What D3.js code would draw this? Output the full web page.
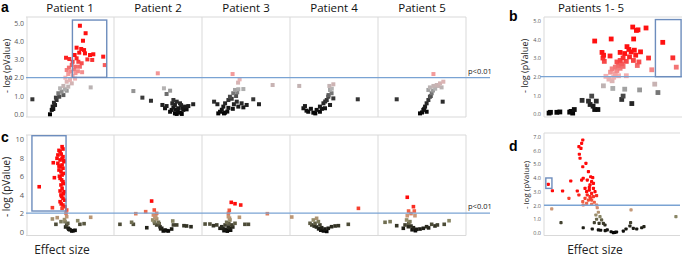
<!DOCTYPE html>
<html><head><meta charset="utf-8">
<script src="https://cdn.jsdelivr.net/npm/d3@7"></script>
<style>
body{margin:0;background:#fff;}
svg{display:block;}
</style></head><body>
<svg id="fig" width="685" height="258"></svg>
<script>
// ---------------- DATA ----------------
const patients = ["Patient 1","Patient 2","Patient 3","Patient 4","Patient 5"];
const pooledTitle = "Patients 1- 5";
const panelLetters = ["a","b","c","d"];
const yLabel = "- log (pValue)";
const xLabel = "Effect size";
const thresholdLabel = "p<0.01";
const threshold = 2;               // -log10(0.01)
const ticksA = [0,1,2,3,4,5];
const ticksB = [0,1,2,3,4,5];
const ticksC = [0,2,4,6,8,10];
const ticksD = [0,1,2,3,4,5,6,7];

// panel a : per patient [effect size, -log p]
const a1 = [[0.45,4.84],[0.71,4.43],[0.59,4.02],[0.30,3.64],[0.51,3.57],[0.64,3.51],[0.42,3.37],[0.68,3.33],[0.91,3.24],[1.06,3.28],[0.79,3.0],[1.01,2.97],[1.51,3.15],[1.58,2.69],[-0.18,3.09],[-0.03,3.02],[0.21,3.24],[0.30,3.06],[0.12,2.87],[0.38,2.87],[0.53,2.79],[0.27,2.60],[0.08,2.69],[0.45,2.60],[0.18,2.46],[-0.15,2.42],[0.03,2.33],[-0.08,2.20],[0.12,2.09],[-0.21,2.0],[0,1.87],[0.23,1.95],[-0.15,1.78],[0.08,1.69],[-0.30,1.55],[-0.08,1.51],[-0.45,1.42],[-0.23,1.37],[-0.38,1.24],[-0.15,1.29],[-0.53,1.15],[-0.30,1.05],[-0.49,0.96],[0.94,1.47],[-0.64,0.91],[-0.61,0.78],[-0.73,0.63],[-0.68,0.51],[-0.79,0.42],[-0.76,0.29],[-0.83,0.24],[-0.91,0],[-1.71,0.82],[0.36,2.35],[0.25,2.25],[-0.05,2.55],[0.55,2.3]];
const a2 = [[-0.01,2.24],[-1.12,1.27],[0.27,1.42],[0.55,1.29],[0.39,1.11],[-0.71,0.91],[-0.32,0.74],[0.20,0.51],[0.32,0.33],[0.70,0.78],[0.85,0.69],[0.77,0.51],[1.0,0.60],[0.92,0.33],[0.62,0.24],[0.55,0.14],[0.77,0.05],[1.0,0.09],[1.15,0.24],[1.23,0.42],[1.38,0.45],[1.6,0.55],[1.08,0.02],[0.85,0.02],[0.70,0.38],[1.3,0.27],[0.39,0.45],[0.9,0.15],[1.1,0.35],[0.8,0.25],[0.65,0.6],[1.05,0.5]];
const a3 = [[-0.61,2.20],[-0.29,1.91],[-0.36,1.73],[1.21,1.60],[-0.5,1.33],[-0.35,1.37],[-0.12,1.38],[-0.58,1.15],[-0.73,0.96],[-0.80,0.78],[-0.95,0.60],[-1.03,0.42],[-1.18,0.14],[-1.26,0.05],[-0.95,0.09],[-1.45,0.69],[-1.3,0.55],[-0.42,0.69],[-0.20,0.60],[0.03,0.51],[-0.12,0.38],[-0.35,0.42],[0.33,0.82],[0.59,0.55],[-0.6,0.3],[-0.8,0.35],[-1.1,0.25],[-0.65,0.85],[-0.45,1.0],[-0.55,0.55],[-1.0,0.05],[-0.85,0.15],[-0.4,1.2]];
const a4 = [[-1.58,1.55],[-0.21,1.55],[-0.03,1.64],[-0.18,1.33],[-0.11,1.15],[-0.26,0.96],[-0.33,0.78],[-0.48,0.60],[-0.64,0.42],[-0.79,0.24],[-0.94,0.09],[-1.17,0.14],[-1.39,0.33],[-1.32,0.45],[-0.03,0.87],[-0.18,0.51],[-0.41,0.33],[-0.64,0.14],[1.08,0.82],[-1.05,0.3],[-0.25,1.05],[-0.1,1.4],[-0.55,0.3],[-0.85,0.05],[-0.4,0.7],[-1.25,0.2]];
const a5 = [[0.52,2.20],[0.97,1.78],[0.82,1.69],[0.67,1.60],[0.52,1.55],[0.36,1.47],[0.29,1.33],[0.89,1.47],[0.6,1.4],[0.44,1.15],[0.36,0.96],[0.29,0.78],[0.21,0.60],[0.14,0.42],[0.06,0.24],[-0.09,0.05],[0.21,0.14],[-1.15,0.82],[0.94,0.69],[0.75,1.55],[0.5,1.3],[0.4,1.0],[0.0,0.1],[0.1,0.3]];

// panel b : pooled patients 1-5
const bPooled = [[-0.81,3.91],[-0.09,4.02],[0.85,4.66],[1.01,4.48],[1.08,4.51],[1.43,4.61],[0.89,4.02],[2.16,3.84],[2.60,3.01],[2.75,2.51],[-0.49,3.30],[-0.42,3.15],[-0.45,3.0],[-0.39,2.82],[-0.14,3.11],[0.30,3.30],[0.60,3.61],[0.68,3.46],[0.50,3.24],[0.78,3.33],[0.92,3.42],[1.19,3.33],[0.98,3.15],[0.71,3.06],[0.43,3.0],[0.30,2.87],[0.16,2.79],[0.57,2.82],[0.88,2.87],[1.12,2.79],[1.54,3.0],[1.05,2.60],[1.68,2.37],[0.37,2.69],[0.23,2.6],[0.09,2.51],[-0.05,2.42],[0.16,2.33],[0.3,2.45],[0.43,2.55],[-0.12,2.24],[0.09,2.15],[0.23,2.05],[0.02,1.97],[-0.19,1.87],[-0.32,2.02],[-0.05,1.78],[0.57,2.05],[1.81,1.60],[-0.43,1.51],[-0.02,1.37],[0.50,1.33],[1.15,1.29],[1.95,1.15],[0.43,0.96],[0.37,0.78],[0.81,0.56],[-0.94,0.96],[-1.08,0.69],[-0.74,0.69],[-1.01,0.51],[-0.88,0.42],[-0.81,0.24],[-0.67,0.24],[-1.36,0.73],[-1.70,0.24],[-1.84,0.14],[-1.77,0.05],[-1.9,0.1],[-2.46,0.09],[-2.33,0.11],[-2.74,0.09],[-2.80,0.05]];

// panel c : per patient
const c1 = [[-1.40,4.86],[-0.76,7.46],[-0.71,5.84],[-0.80,2.59],[-0.36,9.20],[-0.32,8.95],[-0.45,8.66],[-0.55,8.30],[-0.32,8.12],[-0.59,7.94],[-0.36,7.94],[-0.45,7.76],[-0.27,7.57],[-0.55,7.40],[-0.36,7.22],[-0.45,7.03],[-0.32,6.86],[-0.50,6.67],[-0.41,6.49],[-0.36,6.13],[-0.45,5.77],[-0.32,5.41],[-0.41,5.05],[-0.36,4.69],[-0.27,4.32],[-0.41,3.97],[-0.32,3.61],[-0.45,3.24],[-0.32,2.88],[-0.23,2.70],[-0.36,2.52],[-0.5,8.8],[-0.4,8.4],[-0.28,7.7],[-0.5,7.1],[-0.3,6.3],[-0.48,6.0],[-0.38,5.6],[-0.3,5.2],[-0.45,4.4],[-0.3,4.1],[-0.38,3.8],[-0.25,3.4],[-0.4,3.0],[-0.15,2.34],[-0.18,1.98],[-0.15,1.62],[-0.23,1.08],[-0.15,0.72],[-0.08,0.36],[0.08,0.07],[0.23,0.14],[0.0,0.2],[-0.2,0.5],[-0.1,0.9],[-0.25,1.3],[-0.80,1.37],[-0.58,1.51],[-0.64,0.79],[-0.41,1.08],[0.35,1.18],[0.45,0.79],[0.64,0.86],[0.94,1.55],[0.15,0.1],[-0.05,0.25]];
const c2 = [[-0.29,3.31],[-0.56,2.16],[-0.17,2.34],[-0.06,1.98],[-1.01,1.94],[-0.21,1.80],[-0.14,1.51],[-0.24,1.26],[-0.06,1.37],[-0.17,1.08],[0.02,1.01],[-0.06,0.72],[0.09,0.53],[0.17,0.36],[0.32,0.17],[0.47,0.07],[0.62,0.28],[0.24,0.07],[0.70,0.72],[0.67,1.15],[0.85,0.72],[1.18,0.64],[1.30,0.61],[1.50,0.53],[-1.73,0.79],[-1.20,1.01],[-1.12,0.79],[-0.51,0.42],[-0.1,1.6],[0.05,0.85],[0.12,0.3],[0.4,0.1],[-0.15,0.9]];
const c3 = [[-0.67,3.17],[-0.5,3.02],[-0.24,2.88],[-0.76,2.31],[-0.80,1.98],[-0.30,1.55],[0.97,1.94],[-0.80,1.62],[-0.73,1.26],[-0.88,1.01],[-0.95,0.72],[-1.10,0.53],[-1.18,0.36],[-0.95,0.25],[-0.88,0.17],[-0.73,0.36],[-0.65,0.72],[-1.33,0.72],[-1.48,0.64],[-1.64,0.82],[-1.86,0.82],[-0.05,0.79],[0.11,0.79],[-0.5,0.90],[-0.75,1.45],[-0.8,0.5],[-1.0,0.1],[-0.85,0.05],[-0.7,0.15],[-1.05,0.35],[-0.6,0.5],[-0.78,0.9]];
const c4 = [[1.11,2.52],[-1.92,1.58],[-0.94,1.26],[-0.79,1.44],[-0.71,1.08],[-0.86,0.90],[-1.01,0.72],[-0.64,0.72],[-0.56,0.42],[-0.41,0.28],[-0.26,0.36],[-0.11,0.53],[0.05,0.61],[0.20,0.64],[-0.48,0.07],[-0.33,0.02],[0.65,0.79],[-1.09,0.90],[-0.8,0.5],[-0.7,0.3],[-0.9,0.6],[-0.6,0.15]];
const c5 = [[-0.67,3.72],[-0.39,2.70],[-0.61,2.23],[-0.35,2.23],[-0.67,1.72],[-0.32,1.72],[-0.5,1.95],[-0.70,1.26],[-0.55,1.08],[-0.77,0.72],[-0.62,0.53],[-0.39,0.42],[-0.24,0.25],[-0.09,0.28],[0.06,0.36],[0.21,0.53],[0.44,0.79],[0.59,0.61],[0.70,0.72],[1.01,0.79],[1.23,1.18],[-1.68,1.01],[-1.45,1.08],[-1.15,0.64],[-0.85,0.36],[-0.5,0.6],[-0.6,0.9],[-0.45,0.2],[-0.3,0.1],[0.3,0.4]];

// panel d
const dPooled = [[-1.29,6.76],[-1.34,6.52],[-1.46,6.27],[-1.37,6.15],[-1.44,5.72],[-1.41,5.43],[-1.15,5.06],[-1.29,4.81],[-1.04,4.45],[-0.94,4.08],[-0.85,4.01],[-1.27,3.97],[-1.34,3.84],[-1.09,3.84],[-0.90,3.72],[-0.82,3.60],[-0.97,3.48],[-1.82,3.77],[-2.81,3.53],[-2.63,3.06],[-2.18,3.04],[-1.53,3.04],[-1.90,2.51],[-1.46,2.75],[-1.19,3.23],[-1.12,2.99],[-1.00,3.11],[-0.82,3.23],[-0.75,2.99],[-0.90,2.87],[-1.09,2.75],[-0.97,2.63],[-0.82,2.63],[-0.68,2.70],[-1.19,2.51],[-1.04,2.38],[-0.90,2.38],[-1.29,2.26],[-1.12,2.14],[-0.90,2.07],[-0.78,2.22],[-0.68,2.02],[-2.66,1.73],[0.84,1.66],[-1.27,2.02],[-0.65,1.82],[-0.60,1.49],[-0.71,1.29],[-0.53,1.17],[-0.68,0.98],[-0.46,0.93],[-0.57,0.68],[-0.38,0.68],[-0.78,0.73],[-0.31,0.56],[-2.25,0.73],[-1.27,0.36],[-0.87,0.27],[-0.60,0.20],[-0.50,0.18],[-0.21,0.20],[-0.04,0.07],[0.06,0.0],[0.13,0.02],[0.50,0.12],[0.62,0.27],[0.79,0.49],[0.82,0.73],[0.94,0.32],[1.09,0.27],[1.31,0.36],[1.41,0.44],[2.82,1.17],[-0.3,0.15],[0.2,0.05],[-1.0,3.3],[-0.95,2.5]];

// highlight boxes [x0, x1, y0, y1] in data units
const boxA = [0.11, 1.67, 2.02, 5.15];
const boxB = [1.84, 2.96, 2.0, 5.06];
const boxC = [-1.73, -0.18, 2.23, 10.39];
const boxD = [-2.92, -2.65, 3.23, 3.99];

// ---------------- DRAW ----------------
const FONT = "'Open Sans', Lato, 'Liberation Sans', sans-serif";
const svg = d3.select("#fig");
const frameCol = "#d9d9d9", threshCol = "#7aa3d3", boxCol = "#6d8dbd", tickCol = "#595959";

const colAB = d3.scaleLinear().domain([0,0.9,1.4,2.0,2.6,3.2])
  .range(["#000000","#3a3a3a","#b3b3b3","#f3b4b4","#f36a6a","#ff1010"]).clamp(true);
const colCD = d3.scaleLinear().domain([0,0.6,1.2,1.7,2.2,3.0])
  .range(["#050505","#2f2f22","#8e8b68","#c99a7a","#f06448","#ff0a0a"]).clamp(true);

function dots(g, data, xs, ys, col, s, rx) {
  const sorted = data.slice().sort((p,q)=>p[1]-q[1]);
  g.selectAll(null).data(sorted).join("rect")
    .attr("x", d=>xs(d[0])-s/2).attr("y", d=>ys(d[1])-s/2)
    .attr("width", s).attr("height", s).attr("rx", rx||0)
    .attr("fill", d=>col(d[1]));
}
function hline(g,x0,x1,y,c,w){ g.append("line").attr("x1",x0).attr("x2",x1).attr("y1",y).attr("y2",y).attr("stroke",c).attr("stroke-width",w||1); }
function vline(g,x,y0,y1,c,w){ g.append("line").attr("x1",x).attr("x2",x).attr("y1",y0).attr("y2",y1).attr("stroke",c).attr("stroke-width",w||1); }
function yAxis(g, x, ys, ticks, fs) {
  const ax = g.append("g").attr("transform",`translate(${x},0)`)
    .call(d3.axisLeft(ys).tickValues(ticks).tickSize(0).tickPadding(3));
  ax.select(".domain").remove();
  ax.selectAll("text").attr("font-family",FONT).attr("font-size",fs).attr("fill",tickCol);
}
function ylab(g, x, y, fs) {
  g.append("text").attr("transform",`translate(${x},${y}) rotate(-90)`)
   .attr("text-anchor","middle").attr("font-family",FONT).attr("font-size",fs).attr("fill","#222").text(yLabel);
}
function letter(g, x, y, t) {
  g.append("text").attr("x",x).attr("y",y).attr("font-family","'Liberation Sans',Arial,sans-serif")
   .attr("font-weight","bold").attr("font-size",14).attr("fill","#000").text(t);
}
function box(g, xs, ys, b) {
  g.append("rect").attr("x",xs(b[0])).attr("y",ys(b[3]))
   .attr("width",xs(b[1])-xs(b[0])).attr("height",ys(b[2])-ys(b[3]))
   .attr("fill","none").attr("stroke",boxCol).attr("stroke-width",1.4);
}

// ---- strips a and c
const lefts = [26,114,202,290,378], subW = 88;
function strip(cfg) {
  const g = svg.append("g");
  const ys = d3.scaleLinear().domain(cfg.yDomain).range(cfg.yRange);
  hline(g, lefts[0], lefts[4]+subW, cfg.top, frameCol);
  hline(g, lefts[0], lefts[4]+subW, cfg.bottom, frameCol);
  lefts.forEach(l=>vline(g,l+ (l===lefts[0]?1:0),cfg.top,cfg.bottom,frameCol));
  vline(g, lefts[4]+subW, cfg.top, cfg.bottom, frameCol);
  yAxis(g, lefts[0]+1, ys, cfg.ticks, cfg.tickFs);
  const xsList = lefts.map(l=>d3.scaleLinear().domain([-2,2]).range([l, l+subW]));
  cfg.sets.forEach((ds,i)=>dots(g, ds, xsList[i], ys, cfg.col, cfg.size, cfg.rx));
  hline(g, lefts[0], 490, ys(threshold), threshCol, 1.3);
  g.append("text").attr("x",468).attr("y",ys(threshold)-4).attr("font-family",FONT)
   .attr("font-size",7.5).attr("fill","#222").text(thresholdLabel);
  box(g, xsList[0], ys, cfg.box);
  return {g, ys, xsList};
}
const A = strip({top:17,bottom:117,yDomain:[0,5],yRange:[114.3,22.8],ticks:ticksA,tickFs:7,
  sets:[a1,a2,a3,a4,a5],col:colAB,size:4,box:boxA});
patients.forEach((p,i)=>A.g.append("text").attr("x",lefts[i]+subW/2).attr("y",12)
  .attr("text-anchor","middle").attr("font-family",FONT).attr("font-size",11.5).attr("fill","#111").text(p));
ylab(A.g, 10, 66, 9);
letter(A.g, 1, 12, panelLetters[0]);

const C = strip({top:135,bottom:235.5,yDomain:[0,10],yRange:[231.6,139.3],ticks:ticksC,tickFs:7.5,
  sets:[c1,c2,c3,c4,c5],col:colCD,size:3.6,box:boxC});
ylab(C.g, 10, 187, 10);
letter(C.g, 1, 142, panelLetters[2]);
C.g.append("text").attr("x",62).attr("y",254).attr("text-anchor","middle").attr("font-family",FONT)
 .attr("font-size",12).attr("fill","#222").text(xLabel);

// ---- panel b
{
  const g = svg.append("g");
  const xs = d3.scaleLinear().domain([-3,3]).range([544.5,682]);
  const ys = d3.scaleLinear().domain([0,5]).range([114,20.7]);
  hline(g,544,682,17,frameCol); hline(g,544,682,117,frameCol);
  vline(g,544,17,117,frameCol);
  yAxis(g,544,ys,ticksB,5.5);
  dots(g,bPooled,xs,ys,colAB,4.8);
  hline(g,540,682,ys(threshold),threshCol,1.3);
  box(g,xs,ys,boxB);
  g.append("text").attr("x",591).attr("y",12).attr("text-anchor","middle").attr("font-family",FONT)
   .attr("font-size",11.5).attr("fill","#111").text(pooledTitle);
  ylab(g,528,66,9);
  letter(g,509,21,panelLetters[1]);
}
// ---- panel d
{
  const g = svg.append("g");
  const xs = d3.scaleLinear().domain([-3,3]).range([544,680]);
  const ys = d3.scaleLinear().domain([0,7]).range([232.7,136.7]);
  hline(g,544,680,133,frameCol); hline(g,544,680,235.5,frameCol);
  vline(g,544,133,235.5,frameCol);
  yAxis(g,544,ys,ticksD,5.5);
  dots(g,dPooled,xs,ys,colCD,3.2,0.8);
  hline(g,544,680,ys(threshold),threshCol,1.3);
  box(g,xs,ys,boxD);
  ylab(g,529,185,8);
  letter(g,509,151,panelLetters[3]);
  g.append("text").attr("x",595).attr("y",254).attr("text-anchor","middle").attr("font-family",FONT)
   .attr("font-size",12).attr("fill","#222").text(xLabel);
}
</script>
</body></html>
